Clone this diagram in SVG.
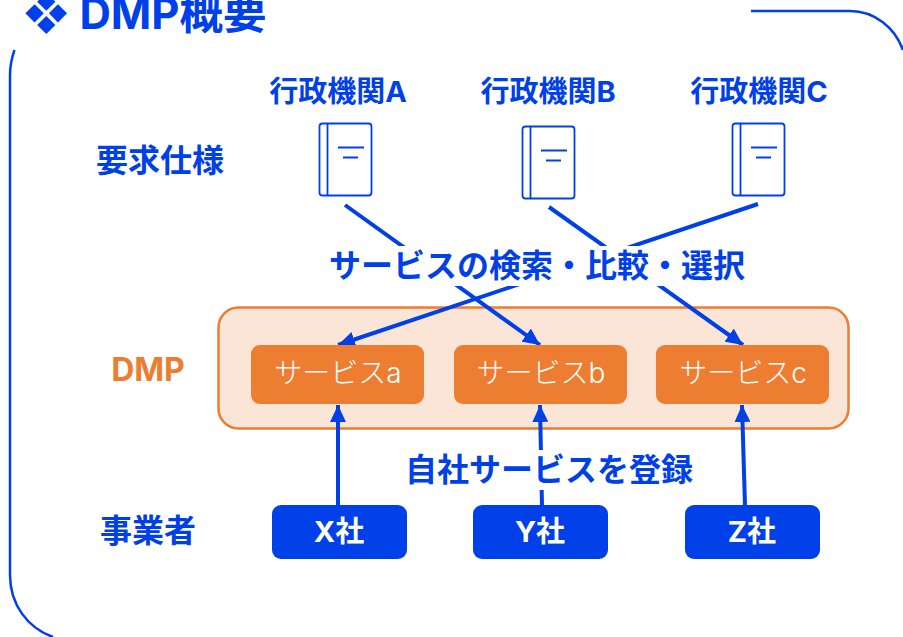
<svg xmlns="http://www.w3.org/2000/svg" width="903" height="637" viewBox="0 0 903 637">
<defs>
<marker id="arrow" markerUnits="userSpaceOnUse" markerWidth="20" markerHeight="16" refX="17" refY="8" orient="auto"><path d="M0 0L17 8L0 16Z" fill="#0040e8"/></marker>
<g id="book"><rect x="0.5" y="0.5" width="52" height="72" rx="3" fill="#fff" stroke="#0040e8" stroke-width="1.800"/><path d="M8.5 0.5V72.5M19 24.5H45M24 34.5H39" fill="none" stroke="#0040e8" stroke-width="1.800"/></g>
</defs>
<style>
text{font-family:Inter,"Noto Sans CJK JP","Noto Sans",sans-serif}
.t{fill:#0040e8;font-weight:700;font-size:43.500px}
.l{font-size:29px;font-weight:700;text-anchor:middle}
.b{font-size:32px}
.blue{fill:#0040e8}
.s{fill:#fff;font-size:28px;font-weight:300;text-anchor:middle}
.w{fill:#fff;font-weight:700;font-size:29px;text-anchor:middle}
.c{fill:none;stroke:#0040e8;stroke-width:4}
.svc{fill:#ed7d31}.co{fill:#0040e8}
</style>
<path id="frame" d="M14.500 50C11 60 10 66 10 75V575C10 605 28 628 53 637M751 11H850C875 11 895 28 903 50" fill="none" stroke="#0040e8" stroke-width="2.500"/>
<text id="title" class="t" x="23" y="29">❖ DMP概要</text>
<g id="labels">
<text class="l blue" x="338" y="102">行政機関A</text>
<text class="l blue" x="548" y="102">行政機関B</text>
<text class="l blue" x="759" y="102">行政機関C</text>
<text class="l b blue" x="160" y="172">要求仕様</text>
<text class="l b" x="148" y="381" style="fill:#ed7d31">DMP</text>
<text class="l b blue" x="148" y="542">事業者</text>
</g>
<g id="book-a"><use href="#book" x="319" y="123"/></g>
<g id="book-b"><use href="#book" x="522" y="126"/></g>
<g id="book-c"><use href="#book" x="732" y="123"/></g>
<g id="dmp"><rect x="218.500" y="307.500" width="630" height="121" rx="20" fill="#fbe5d6" stroke="#ed7d31" stroke-width="2.500"/></g>
<g id="connectors">
<path class="c" marker-end="url(#arrow)" d="M345 205L540 345"/>
<path class="c" marker-end="url(#arrow)" d="M549 207L743 345"/>
<path class="c" marker-end="url(#arrow)" d="M758 204L338 345"/>
<path class="c" marker-end="url(#arrow)" d="M338 506V405"/>
<path class="c" marker-end="url(#arrow)" d="M542 506L540 405"/>
<path class="c" marker-end="url(#arrow)" d="M745 506L742 405"/>
</g>
<g id="edge-labels">
<rect x="328" y="246" width="420" height="40" fill="#fff"/>
<rect x="404" y="450" width="290" height="40" fill="#fff"/>
<text class="l b blue" x="537" y="277">サービスの検索・比較・選択</text>
<text class="l b blue" x="549" y="481">自社サービスを登録</text>
</g>
<g id="svc-a"><rect class="svc" x="251" y="345" width="173" height="59" rx="9"/><text class="s" x="338" y="383">サービスa</text></g>
<g id="svc-b"><rect class="svc" x="454" y="345" width="173" height="59" rx="9"/><text class="s" x="541" y="383">サービスb</text></g>
<g id="svc-c"><rect class="svc" x="656" y="345" width="173" height="59" rx="9"/><text class="s" x="743" y="383">サービスc</text></g>
<g id="co-x"><rect class="co" x="272" y="505" width="135" height="54" rx="9"/><text class="w" x="339" y="542">X社</text></g>
<g id="co-y"><rect class="co" x="473" y="505" width="135" height="54" rx="9"/><text class="w" x="540" y="542">Y社</text></g>
<g id="co-z"><rect class="co" x="685" y="505" width="135" height="54" rx="9"/><text class="w" x="752" y="542">Z社</text></g>
</svg>
